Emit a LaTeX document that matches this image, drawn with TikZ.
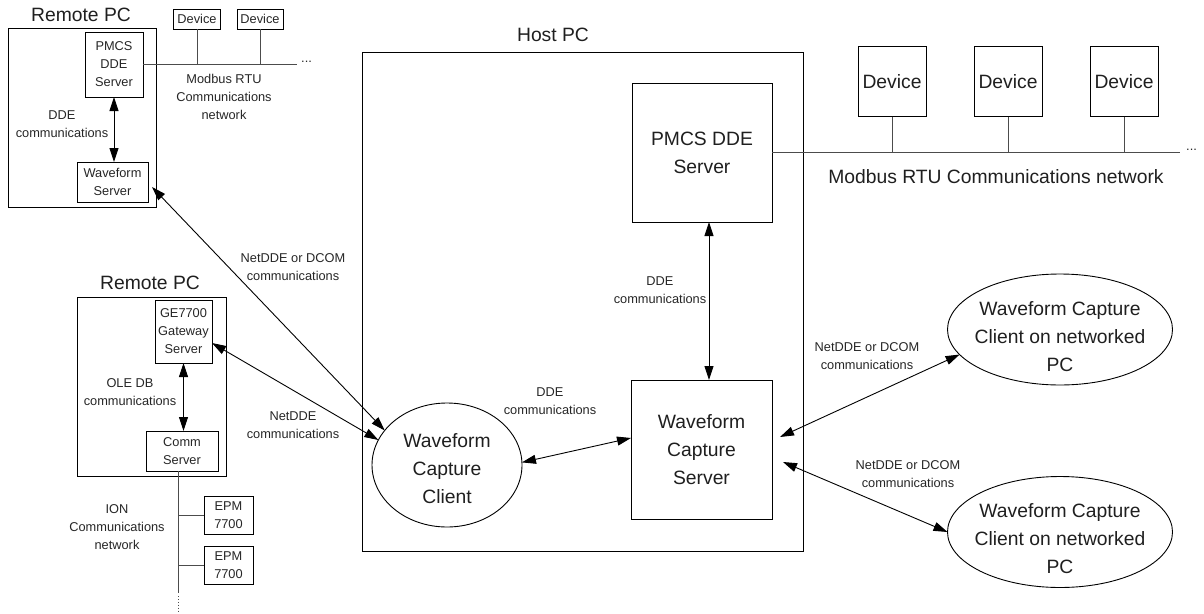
\documentclass[tikz,border=0pt]{standalone}
\usepackage{fontspec}
\setmainfont{Liberation Sans}
\usetikzlibrary{arrows.meta,shapes.geometric}
\tikzset{
  bigtxt/.style={font=\fontsize{19.3}{28}\selectfont, text=black!88, align=center},
  smalltxt/.style={font=\fontsize{12.8}{18}\selectfont, text=black!85, align=center},
  boxnode/.style={draw=black, line width=0.9pt, inner sep=0pt, outer sep=0pt},
  ellnode/.style={draw=black, line width=0.9pt, ellipse, inner sep=0pt, outer sep=0pt},
  netline/.style={draw=black!70, line width=0.9pt},
  biarrow/.style={draw=black, line width=0.9pt, {Triangle[length=14pt,width=9pt]}-{Triangle[length=14pt,width=9pt]}}
}
\begin{document}
\begin{tikzpicture}[x=1pt,y=-1pt]
\useasboundingbox (0,0) rectangle (1204,613);

% ---------- Remote PC 1 ----------
\node[bigtxt] (rpcAlbl) at (81,15) {Remote PC};
\node[boxnode, minimum width=148pt, minimum height=179pt] (rpcA) at (82,117.5) {};
\node[boxnode, smalltxt, minimum width=58pt, minimum height=65pt] (pmcsA) at (114,64.5) {PMCS\\DDE\\Server};
\node[boxnode, smalltxt, minimum width=71pt, minimum height=40pt] (wfsrv) at (112.5,182) {Waveform\\Server};
\node[smalltxt] (ddeAlbl) at (62,124) {DDE\\communications};
\draw[biarrow] (pmcsA.south) -- (pmcsA.south |- wfsrv.north);

\node[boxnode, smalltxt, minimum width=47pt, minimum height=20pt] (devA) at (197,19) {Device};
\node[boxnode, smalltxt, minimum width=46pt, minimum height=20pt] (devB) at (260,19) {Device};
\coordinate (mbAend) at (297,64.5);
\draw[netline] (pmcsA.east) -- (mbAend);
\draw[netline] (devA.south) -- (devA.south |- mbAend);
\draw[netline] (devB.south) -- (devB.south |- mbAend);
\node[smalltxt, anchor=west, inner sep=0pt] (mbAdots) at (301,61.5) {...};
\node[smalltxt] (mbAlbl) at (224,97) {Modbus RTU\\Communications\\network};

% ---------- Remote PC 2 ----------
\node[bigtxt] (rpcBlbl) at (150,283) {Remote PC};
\node[boxnode, minimum width=149pt, minimum height=179pt] (rpcB) at (151.5,386.5) {};
\node[boxnode, smalltxt, minimum width=57pt, minimum height=63pt] (ge) at (183.5,331.5) {GE7700\\Gateway\\Server};
\node[boxnode, smalltxt, minimum width=72pt, minimum height=40pt] (comm) at (182,451) {Comm\\Server};
\node[smalltxt] (oleLbl) at (130,392) {OLE DB\\communications};
\draw[biarrow] (ge.south) -- (ge.south |- comm.north);

\coordinate (ionEnd) at (178,593);
\draw[netline] ([xshift=-4pt]comm.south) -- (ionEnd);
\coordinate (ionDotEnd) at (178,611);
\draw[black!70, line width=0.9pt, dotted] ([yshift=-3pt]ionEnd) -- (ionDotEnd);
\node[boxnode, smalltxt, minimum width=49pt, minimum height=38pt] (epmA) at (228.5,515) {EPM\\7700};
\node[boxnode, smalltxt, minimum width=49pt, minimum height=38pt] (epmB) at (228.5,565) {EPM\\7700};
\draw[netline] (epmA.west) -- (epmA.west -| ionEnd);
\draw[netline] (epmB.west) -- (epmB.west -| ionEnd);
\node[smalltxt] (ionLbl) at (117,527) {ION\\Communications\\network};

% ---------- Host PC ----------
\node[bigtxt] (hostLbl) at (553,35) {Host PC};
\node[boxnode, minimum width=441pt, minimum height=499pt] (host) at (582.5,301.5) {};
\node[boxnode, bigtxt, minimum width=140pt, minimum height=139pt] (pmcsH) at (702,152.5) {PMCS DDE\\Server};
\node[boxnode, bigtxt, minimum width=141pt, minimum height=139pt] (wcs) at (701.5,449.5) {Waveform\\Capture\\Server};
\draw[biarrow] ([xshift=7pt]pmcsH.south) -- ([xshift=7.5pt]wcs.north);
\node[smalltxt] (ddeHlbl) at (660,290) {DDE\\communications};

\node[ellnode, minimum width=150pt, minimum height=124pt,
      label={[bigtxt, yshift=-4pt]center:Waveform\\Capture\\Client}] (client) at (447,465) {};
\draw[biarrow] (client.2) -- ([yshift=11.5pt]wcs.west);
\node[smalltxt] (ddeClbl) at (550,401) {DDE\\communications};

% Host Modbus network
\node[boxnode, bigtxt, minimum width=68pt, minimum height=70pt] (devC) at (892,81.5) {Device};
\node[boxnode, bigtxt, minimum width=68pt, minimum height=70pt] (devD) at (1008,81.5) {Device};
\node[boxnode, bigtxt, minimum width=68pt, minimum height=70pt] (devE) at (1124,81.5) {Device};
\coordinate (mbHend) at (1180,152.5);
\draw[netline] (pmcsH.east) -- (mbHend);
\draw[netline] (devC.south) -- (devC.south |- mbHend);
\draw[netline] (devD.south) -- (devD.south |- mbHend);
\draw[netline] (devE.south) -- (devE.south |- mbHend);
\node[smalltxt, anchor=west, inner sep=0pt] (mbHdots) at (1186,149.5) {...};
\node[bigtxt] (mbHlbl) at (996,177) {Modbus RTU Communications network};

% Networked clients
\node[ellnode, minimum width=225pt, minimum height=111pt,
      label={[bigtxt, yshift=-7pt]center:Waveform Capture\\Client on networked\\PC}] (wccA) at (1060,329.5) {};
\node[ellnode, minimum width=225pt, minimum height=111pt,
      label={[bigtxt, yshift=-7pt]center:Waveform Capture\\Client on networked\\PC}] (wccB) at (1060,532) {};
\draw[biarrow] ([xshift=8pt,yshift=12.5pt]wcs.east) -- (wccA.194);
\draw[biarrow] ([xshift=11pt,yshift=-12.5pt]wcs.east) -- (wccB.180);
\node[smalltxt] (netAlbl) at (867,356.5) {NetDDE or DCOM\\communications};
\node[smalltxt] (netBlbl) at (908,474) {NetDDE or DCOM\\communications};

% Remote links into client
\draw[biarrow] ([xshift=4pt,yshift=-5pt]wfsrv.east) -- (client.151);
\node[smalltxt] (netClbl) at (293,267) {NetDDE or DCOM\\communications};
\draw[biarrow] ([yshift=-11.5pt]ge.east) -- (client.160);
\node[smalltxt] (netDlbl) at (293,425) {NetDDE\\communications};
\end{tikzpicture}
\end{document}
